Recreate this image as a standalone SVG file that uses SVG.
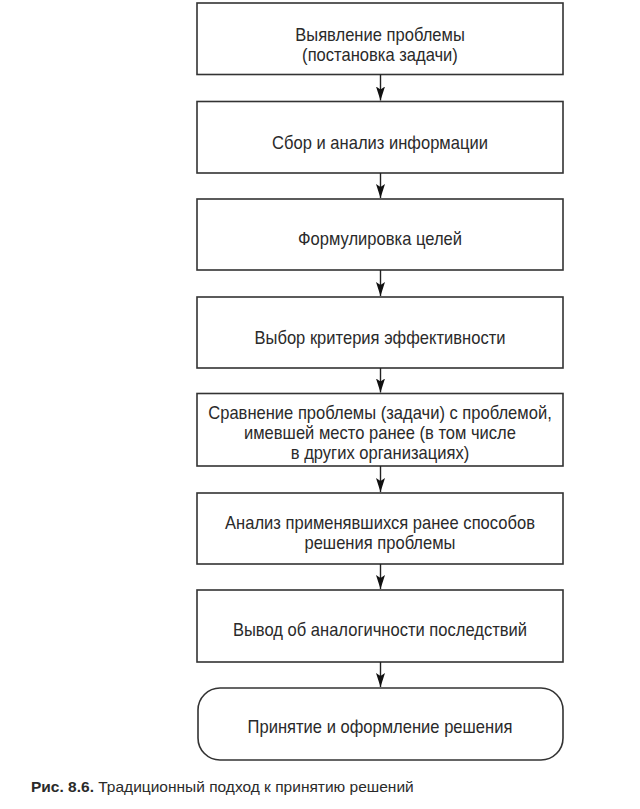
<svg xmlns="http://www.w3.org/2000/svg" width="640" height="809" viewBox="0 0 640 809">
<defs>
<style>
.box{fill:#fff;stroke:#333;stroke-width:1.6}
.t{font-family:"Liberation Sans",Arial,sans-serif;font-size:18px;fill:#2a2a2a;text-anchor:middle}
.conn line{stroke:#222;stroke-width:1.4}
.cap{font-family:"Liberation Sans",Arial,sans-serif;font-size:15.5px;fill:#2a2a2a}
</style>
<marker id="ah" viewBox="0 0 14 10" refX="14" refY="5" markerWidth="14" markerHeight="10" markerUnits="userSpaceOnUse" orient="auto">
<path d="M14,5 L0,0.5 L3,5 L0,9.5 Z" fill="#111"/>
</marker>
</defs>
<rect width="640" height="809" fill="#fff"/>
<g id="n1"><rect class="box" x="197" y="3" width="366" height="71.5"/>
<g transform="matrix(0.92 0 0 1 30.4 0)">
<text class="t" x="380" y="41">Выявление проблемы</text>
<text class="t" x="380" y="61">(постановка задачи)</text></g></g>
<g id="n2"><rect class="box" x="197" y="101.5" width="366" height="71.5"/>
<g transform="matrix(0.92 0 0 1 30.4 0)">
<text class="t" x="380" y="149">Сбор и анализ информации</text></g></g>
<g id="n3"><rect class="box" x="197" y="199" width="366" height="71"/>
<g transform="matrix(0.92 0 0 1 30.4 0)">
<text class="t" x="380" y="245">Формулировка целей</text></g></g>
<g id="n4"><rect class="box" x="197" y="297" width="366" height="71"/>
<g transform="matrix(0.92 0 0 1 30.4 0)">
<text class="t" x="380" y="344">Выбор критерия эффективности</text></g></g>
<g id="n5"><rect class="box" x="197" y="393.5" width="366" height="72.5"/>
<g transform="matrix(0.92 0 0 1 30.4 0)">
<text class="t" x="380" y="419.5">Сравнение проблемы (задачи) с проблемой,</text>
<text class="t" x="380" y="439.5">имевшей место ранее (в том числе</text>
<text class="t" x="380" y="459.5">в других организациях)</text></g></g>
<g id="n6"><rect class="box" x="197" y="493" width="366" height="71"/>
<g transform="matrix(0.92 0 0 1 30.4 0)">
<text class="t" x="380" y="529.5">Анализ применявшихся ранее способов</text>
<text class="t" x="380" y="549.5">решения проблемы</text></g></g>
<g id="n7"><rect class="box" x="197" y="590" width="366" height="72"/>
<g transform="matrix(0.92 0 0 1 30.4 0)">
<text class="t" x="380" y="636">Вывод об аналогичности последствий</text></g></g>
<g id="n8"><rect class="box" x="198" y="688" width="365" height="72" rx="22" ry="22"/>
<g transform="matrix(0.92 0 0 1 30.4 0)">
<text class="t" x="380" y="733">Принятие и оформление решения</text></g></g>
<g id="connectors" class="conn">
<line x1="380.5" y1="74.5" x2="380.5" y2="100.5" marker-end="url(#ah)"/>
<line x1="380.5" y1="173" x2="380.5" y2="198" marker-end="url(#ah)"/>
<line x1="380.5" y1="270" x2="380.5" y2="296" marker-end="url(#ah)"/>
<line x1="380.5" y1="368" x2="380.5" y2="392.5" marker-end="url(#ah)"/>
<line x1="380.5" y1="466" x2="380.5" y2="492" marker-end="url(#ah)"/>
<line x1="380.5" y1="564" x2="380.5" y2="589" marker-end="url(#ah)"/>
<line x1="380.5" y1="662" x2="380.5" y2="687" marker-end="url(#ah)"/>
</g>
<text class="cap" x="31" y="792"><tspan font-weight="bold">Рис. 8.6.</tspan> Традиционный подход к принятию решений</text>
</svg>
